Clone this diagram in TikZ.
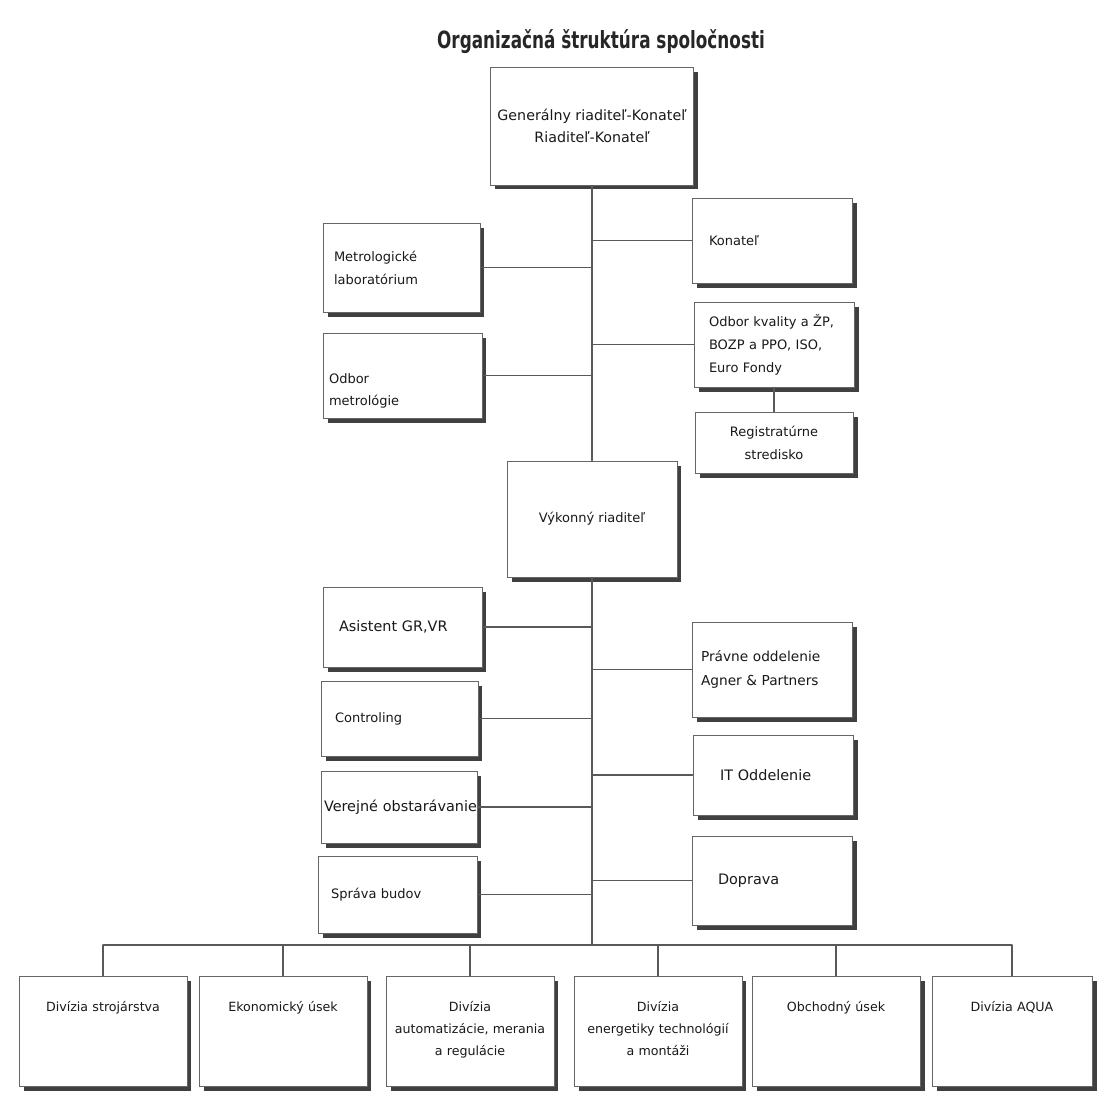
\documentclass[tikz,border=0pt]{standalone}
\usepackage{graphicx}
\usepackage{fontspec}
\setmainfont{DejaVu Sans}
\usetikzlibrary{shadows}
\tikzset{
	unit/.style={draw=black!60,line width=0.5pt,fill=white,inner ysep=0pt,text=black!90,
		drop shadow={shadow xshift=0.09cm,shadow yshift=-0.09cm,fill=black!75,opacity=1},
		font=\fontsize{7.4}{13}\selectfont},
	big/.style={font=\fontsize{8.2}{13}\selectfont},
	lbox/.style n args={3}{unit,align=left,text width=#1,inner xsep=#2,minimum height=#3},
	dept/.style={unit,anchor=north,align=center,text width=3.2cm,inner xsep=0.08cm,
		text height=0.7cm,text depth=1.5cm,font=\fontsize{7.2}{12.5}\selectfont},
	link/.style={draw=black!65,line width=0.6pt}
}
\begin{document}
\begin{tikzpicture}[x=0.02cm,y=-0.02cm,line cap=round]
		\useasboundingbox (0,0) rectangle (1097,1093);
		\node[anchor=base,text=black!85] (title) at (601,48) {\scalebox{0.71}[1]{\fontsize{13.5}{16}\selectfont\bfseries Organizačná štruktúra spoločnosti}};
		\node[unit,align=center,minimum width=4.06cm,minimum height=2.36cm,font=\fontsize{8.1}{12.5}\selectfont] (gr) at (592,126) {Generálny riaditeľ-Konateľ\\Riaditeľ-Konateľ};
		\node[lbox={2.52cm}{0.34cm}{1.7cm}] (kon) at (772,240.5) {Konateľ};
		\node[lbox={2.6cm}{0.3cm}{1.7cm}] (kval) at (774,344.5) {Odbor kvality a ŽP,\\BOZP a PPO, ISO,\\Euro Fondy};
		\node[unit,align=center,minimum width=3.16cm,minimum height=1.22cm] (reg) at (774,442.5) {Registratúrne\\stredisko};
		\node[lbox={2.7cm}{0.22cm}{1.78cm}] (metlab) at (401.5,267.5) {Metrologické\\laboratórium};
		\node[lbox={2.94cm}{0.12cm}{1.7cm},text height=1.0cm,text depth=0.7cm] (metod) at (402.5,375.5) {Odbor\\metrológie};
		\node[unit,minimum width=3.4cm,minimum height=2.32cm] (vr) at (592,519) {Výkonný riaditeľ};
		\node[lbox={2.54cm}{0.32cm}{1.6cm},big] (asist) at (402.5,627) {Asistent GR,VR};
		\node[lbox={2.58cm}{0.28cm}{1.5cm}] (contr) at (399.5,718.5) {Controling};
		\node[lbox={3.0cm}{0.06cm}{1.44cm},big] (verej) at (399,807) {\mbox{Verejné obstarávanie}};
		\node[lbox={2.66cm}{0.26cm}{1.54cm}] (sprava) at (397.5,894.5) {Správa budov};
		\node[lbox={2.84cm}{0.18cm}{1.9cm},font=\fontsize{7.8}{14}\selectfont] (prav) at (772,669.5) {Právne oddelenie\\Agner \& Partners};
		\node[lbox={2.12cm}{0.54cm}{1.6cm},big] (it) at (773,775) {IT Oddelenie};
		\node[lbox={2.16cm}{0.52cm}{1.78cm},big] (dopr) at (772,880.5) {Doprava};
		\node[dept] (b1) at (103,976) {Divízia strojárstva};
		\node[dept] (b2) at (283,976) {Ekonomický úsek};
		\node[dept] (b3) at (470,976) {Divízia\\automatizácie, merania\\a regulácie};
		\node[dept] (b4) at (658,976) {Divízia\\energetiky technológií\\a montáži};
		\node[dept] (b5) at (836,976) {Obchodný úsek};
		\node[dept,text width=3.04cm] (b6) at (1012,976) {Divízia AQUA};
		\coordinate (bus) at (592,945);
		\draw[link] (gr) -- (vr);
		\draw[link] (vr) -- (bus);
		\draw[link] (kval) -- (reg);
		\foreach \n in {metlab,metod,asist,contr,verej,sprava}
			\draw[link] (\n.east) -- (\n.east -| vr.south);
		\foreach \n in {kon,kval,prav,it,dopr}
			\draw[link] (\n.west) -- (\n.west -| vr.south);
		\draw[link] (b1.north |- bus) -- (b6.north |- bus);
		\foreach \n in {b1,b2,b3,b4,b5,b6}
			\draw[link] (\n.north |- bus) -- (\n.north);
\end{tikzpicture}
\end{document}
